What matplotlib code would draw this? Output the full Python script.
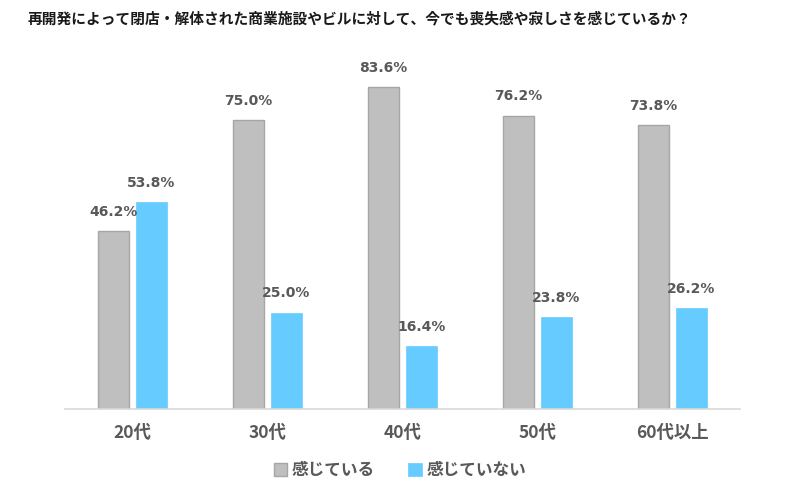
import matplotlib
matplotlib.use("Agg")
import matplotlib.pyplot as plt
import numpy as np

plt.rcParams["font.family"] = ["Noto Sans CJK JP", "DejaVu Sans"]

categories = ["20代", "30代", "40代", "50代", "60代以上"]
feel = [46.2, 75.0, 83.6, 76.2, 73.8]
not_feel = [53.8, 25.0, 16.4, 23.8, 26.2]
series_names = ["感じている", "感じていない"]
title = "再開発によって閉店・解体された商業施設やビルに対して、今でも喪失感や寂しさを感じているか？"

GRAY = "#bfbfbf"
GRAY_EDGE = "#a6a6a6"
BLUE = "#66ccff"
TEXT = "#595959"

fig = plt.figure(figsize=(8, 5), dpi=100)
ax = fig.add_axes([0.081, 0.182, 0.844, 0.693])

x = np.arange(len(categories))
w = 0.23
off = 0.14
b1 = ax.bar(x - off, feel, w, color=GRAY, edgecolor=GRAY_EDGE, linewidth=1.0, label=series_names[0])
b2 = ax.bar(x + off, not_feel, w, color=BLUE, edgecolor=BLUE, linewidth=0.5, label=series_names[1])

for bars, vals in ((b1, feel), (b2, not_feel)):
    for r, v in zip(bars, vals):
        ax.text(r.get_x() + r.get_width() / 2, v + 3.2, f"{v:.1f}%",
                ha="center", va="bottom", fontsize=10, fontweight="bold", color=TEXT,
                family=["DejaVu Sans"])

ax.set_xlim(-0.5, len(categories) - 0.5)
ax.set_ylim(0, 90)
ax.set_yticks([])
ax.set_xticks(x)
ax.set_xticklabels(categories, fontsize=12.5, fontweight="bold", color=TEXT)
ax.tick_params(axis="x", length=0, pad=11)
for s in ("top", "right", "left"):
    ax.spines[s].set_visible(False)
ax.spines["bottom"].set_color("#d9d9d9")
ax.spines["bottom"].set_linewidth(1.2)

fig.text(0.034, 0.963, title, fontsize=10.6, fontweight="bold", color="#1a1a1a", va="center")

leg = fig.legend(handles=[b1, b2], loc="center", bbox_to_anchor=(0.5, 0.06), ncol=2,
                 frameon=False, handlelength=0.8, handleheight=0.8, handletextpad=0.3,
                 columnspacing=2.0, prop={"size": 12, "weight": "bold"})
for t in leg.get_texts():
    t.set_color(TEXT)

fig.savefig("out.png", dpi=100)
